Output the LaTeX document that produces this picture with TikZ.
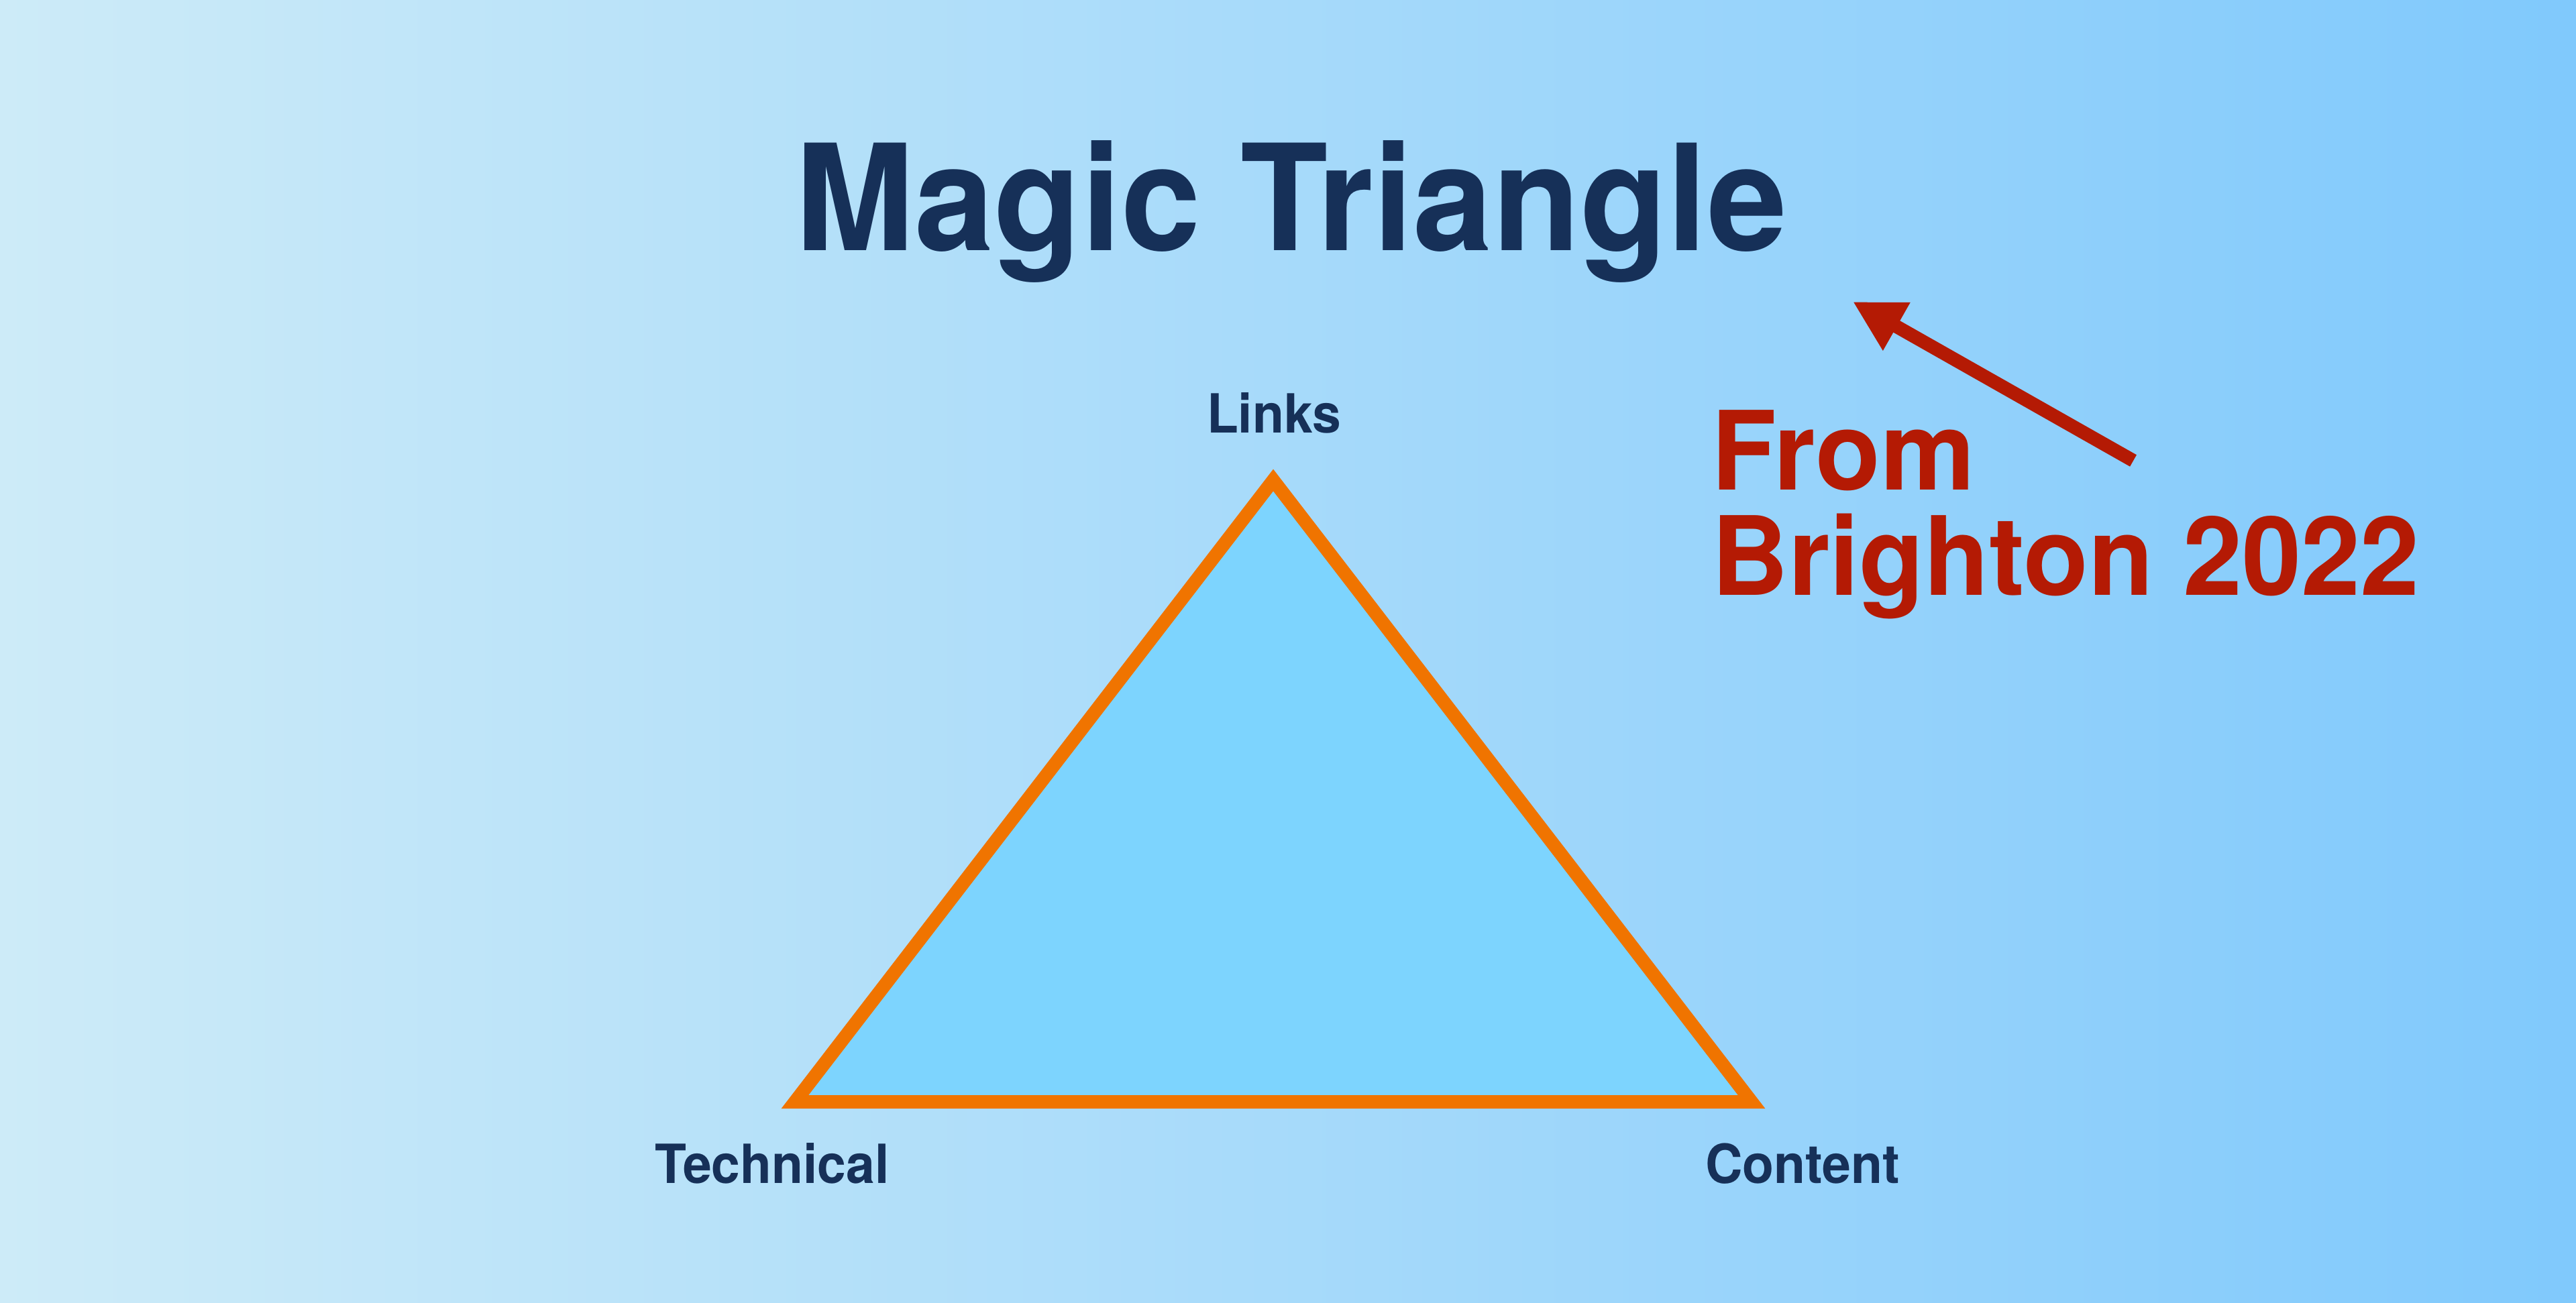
\documentclass[tikz,border=0pt]{standalone}
\usepackage{fontspec}
\setmainfont{TeX Gyre Heros}
\usetikzlibrary{arrows.meta}
\definecolor{bgleft}{HTML}{CDEBF8}
\definecolor{bgright}{HTML}{80C9FC}
\definecolor{trifill}{HTML}{7DD4FE}
\definecolor{triedge}{HTML}{F07400}
\definecolor{navy}{HTML}{163058}
\definecolor{brred}{HTML}{B41A04}
\newcommand{\narrowA}[1]{\scalebox{0.969}[1]{#1}}
\newcommand{\narrowB}[1]{\scalebox{0.955}[1]{#1}}
\newcommand{\narrowC}[1]{\scalebox{0.972}[1]{#1}}
\tikzset{
  title/.style={inner sep=0pt, text=navy, font=\bfseries\fontsize{62.6pt}{70pt}\selectfont},
  corner/.style={inner sep=0pt, text=navy, font=\bfseries\fontsize{22.9pt}{26pt}\selectfont},
  note/.style={inner sep=0pt, text=brred, font=\bfseries\fontsize{46.4pt}{50pt}\selectfont},
  pointer/.style={draw=brred, line width=0.2cm, -{Triangle[length=0.75cm,width=0.77cm]}},
  tri/.style={draw=triedge, fill=trifill, line width=0.2cm, line join=miter}
}
\begin{document}
\begin{tikzpicture}
\shade[left color=bgleft, right color=bgright] (0,0) rectangle (38.4,19.42);
\useasboundingbox (0,0) rectangle (38.4,19.42);
\node[title, anchor=base west] (title) at (11.85,15.68) {\narrowA{Magic Triangle}};
\coordinate (top) at (18.98,12.26);
\coordinate (bl) at (11.85,2.99);
\coordinate (br) at (26.11,2.99);
\draw[tri] (top) -- (br) -- (bl) -- cycle;
\node[corner, anchor=base] (links) at (18.99,12.96) {\narrowB{Links}};
\node[corner, anchor=base] (technical) at (11.51,1.78) {\narrowB{Technical}};
\node[corner, anchor=base] (content) at (26.87,1.78) {\narrowB{Content}};
\node[note, anchor=base west] (from) at (25.51,12.11) {\narrowC{From}};
\node[note, anchor=base west] (brighton) at (25.51,10.54) {\narrowC{Brighton 2022}};
\coordinate (tail) at (31.80,12.55);
\coordinate (tip) at (27.62,14.92);
\draw[pointer] (tail) -- (tip);
\end{tikzpicture}
\end{document}
